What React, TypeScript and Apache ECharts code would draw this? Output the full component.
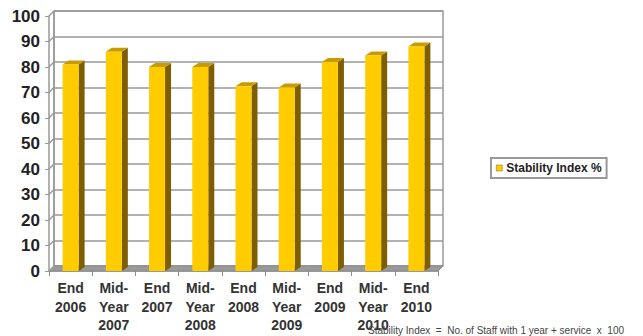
import React, { useEffect, useRef } from "react";
import * as echarts from "echarts";

const categories = [
  "End\n2006",
  "Mid-\nYear\n2007",
  "End\n2007",
  "Mid-\nYear\n2008",
  "End\n2008",
  "Mid-\nYear\n2009",
  "End\n2009",
  "Mid-\nYear\n2010",
  "End\n2010",
];
const stabilityIndex = [81, 86, 80, 80, 72.5, 72, 82, 84.5, 88];
const yTicks = [0, 10, 20, 30, 40, 50, 60, 70, 80, 90, 100];
const seriesName = "Stability Index %";
const footnote = "Stability Index  =  No. of Staff with 1 year + service  x  100";

const FONT = "'Liberation Sans', Arial, sans-serif";

export default function App() {
  const ref = useRef<HTMLDivElement>(null);

  useEffect(() => {
    document.body.style.margin = "0";
    const chart = echarts.init(ref.current!, null, { renderer: "svg" });
    const wallDx = 5;
    const wallDy = -5;
    const barDx = 6;
    const barDy = -4;

    chart.setOption({
      animation: false,
      backgroundColor: "#ffffff",
      grid: [
        { left: 49, right: 205, top: 16, bottom: 65, show: false },
        {
          left: 49 + wallDx,
          right: 205 - wallDx,
          top: 16 + wallDy,
          bottom: 65 - wallDy,
          show: true,
          borderColor: "#999",
          borderWidth: 1.5,
          backgroundColor: "#ffffff",
        },
      ],
      xAxis: [
        {
          type: "category",
          gridIndex: 0,
          data: categories,
          axisLine: { show: true, lineStyle: { color: "#8a8a8a", width: 1.5 } },
          axisTick: { show: true, length: 5, interval: 0, lineStyle: { color: "#8a8a8a" } },
          axisLabel: {
            interval: 0,
            margin: 8,
            fontFamily: FONT,
            fontWeight: "bold",
            fontSize: 14,
            lineHeight: 18.5,
            color: "#333",
          },
          splitLine: { show: false },
        },
        {
          type: "value",
          gridIndex: 1,
          min: 0,
          max: 1,
          show: false,
        },
      ],
      yAxis: [
        {
          type: "value",
          gridIndex: 0,
          min: 0,
          max: 100,
          interval: 10,
          axisLine: { show: true, lineStyle: { color: "#999", width: 1.5 } },
          axisTick: { show: true, length: 4, lineStyle: { color: "#999" } },
          axisLabel: {
            margin: 9,
            fontFamily: FONT,
            fontWeight: "bold",
            fontSize: 17,
            color: "#222",
          },
          splitLine: { show: false },
        },
        {
          type: "value",
          gridIndex: 1,
          min: 0,
          max: 100,
          interval: 10,
          axisLine: { show: false },
          axisTick: { show: false },
          axisLabel: { show: false },
          splitLine: { show: true, lineStyle: { color: "#999", width: 1.5 } },
        },
      ],
      legend: {
        data: [{ name: seriesName, icon: "rect", itemStyle: { color: "#FFCC00", borderColor: "#806000", borderWidth: 0.5 } }],
        left: 491,
        top: 158,
        orient: "vertical",
        itemWidth: 6,
        itemHeight: 6,
        itemGap: 5,
        padding: [4, 5, 4, 5],
        borderColor: "#999",
        borderWidth: 2,
        backgroundColor: "#fff",
        textStyle: { fontFamily: FONT, fontWeight: "bold", fontSize: 12, color: "#222", padding: [0, 0, 0, -1] },
      },
      graphic: [
        {
          type: "text",
          left: 368,
          top: 325,
          z: 10,
          style: {
            text: footnote,
            fontFamily: FONT,
            fontSize: 10,
            fill: "#444",
          },
        },
      ],
      series: [
        {
          type: "custom",
          name: "frame",
          xAxisIndex: 0,
          yAxisIndex: 0,
          z: 1,
          silent: true,
          data: [[0, 0]],
          renderItem: (params: any, api: any) => {
            const cs = params.coordSys;
            const L = cs.x;
            const R = cs.x + cs.width;
            const B = cs.y + cs.height;
            const T = cs.y;
            const children: any[] = [];
            children.push({
              type: "polygon",
              shape: { points: [[L, B], [R, B], [R + wallDx, B + wallDy], [L + wallDx, B + wallDy]] },
              style: { fill: "#9a9a9a", stroke: "#8a8a8a", lineWidth: 1 },
            });
            children.push({
              type: "line",
              shape: { x1: L + wallDx, y1: T + wallDy, x2: L + wallDx, y2: B + wallDy },
              style: { stroke: "#999", lineWidth: 1.5 },
            });
            yTicks.forEach((t) => {
              const y = api.coord([0, t])[1];
              children.push({
                type: "line",
                shape: { x1: L, y1: y, x2: L + wallDx, y2: y + wallDy },
                style: { stroke: "#999", lineWidth: 1.5 },
              });
            });
            return { type: "group", children };
          },
        },
        {
          type: "custom",
          name: seriesName,
          xAxisIndex: 0,
          yAxisIndex: 0,
          z: 3,
          itemStyle: { color: "#FFCC00" },
          encode: { x: 0, y: 1 },
          data: stabilityIndex.map((v, i) => [i, v]),
          renderItem: (params: any, api: any) => {
            const idx = api.value(0);
            const v = api.value(1);
            const top = api.coord([idx, v]);
            const base = api.coord([idx, 0]);
            const band = api.size([1, 0])[0];
            const w = band * 0.37;
            const x0 = top[0] - w / 2;
            const x1 = top[0] + w / 2;
            return {
              type: "group",
              children: [
                {
                  type: "polygon",
                  shape: { points: [[x1, top[1]], [x1 + barDx, top[1] + barDy], [x1 + barDx, base[1] + barDy], [x1, base[1]]] },
                  style: { fill: "#7d5e00" },
                },
                {
                  type: "polygon",
                  shape: { points: [[x0, top[1]], [x0 + barDx, top[1] + barDy], [x1 + barDx, top[1] + barDy], [x1, top[1]]] },
                  style: { fill: "#c89c00" },
                },
                {
                  type: "rect",
                  shape: { x: x0, y: top[1], width: w, height: base[1] - top[1] },
                  style: { fill: "#FFCC00" },
                },
              ],
            };
          },
        },
      ],
    });
    return () => chart.dispose();
  }, []);

  return <div ref={ref} style={{ width: 643, height: 336, position: "absolute", left: 0, top: 0 }} />;
}
